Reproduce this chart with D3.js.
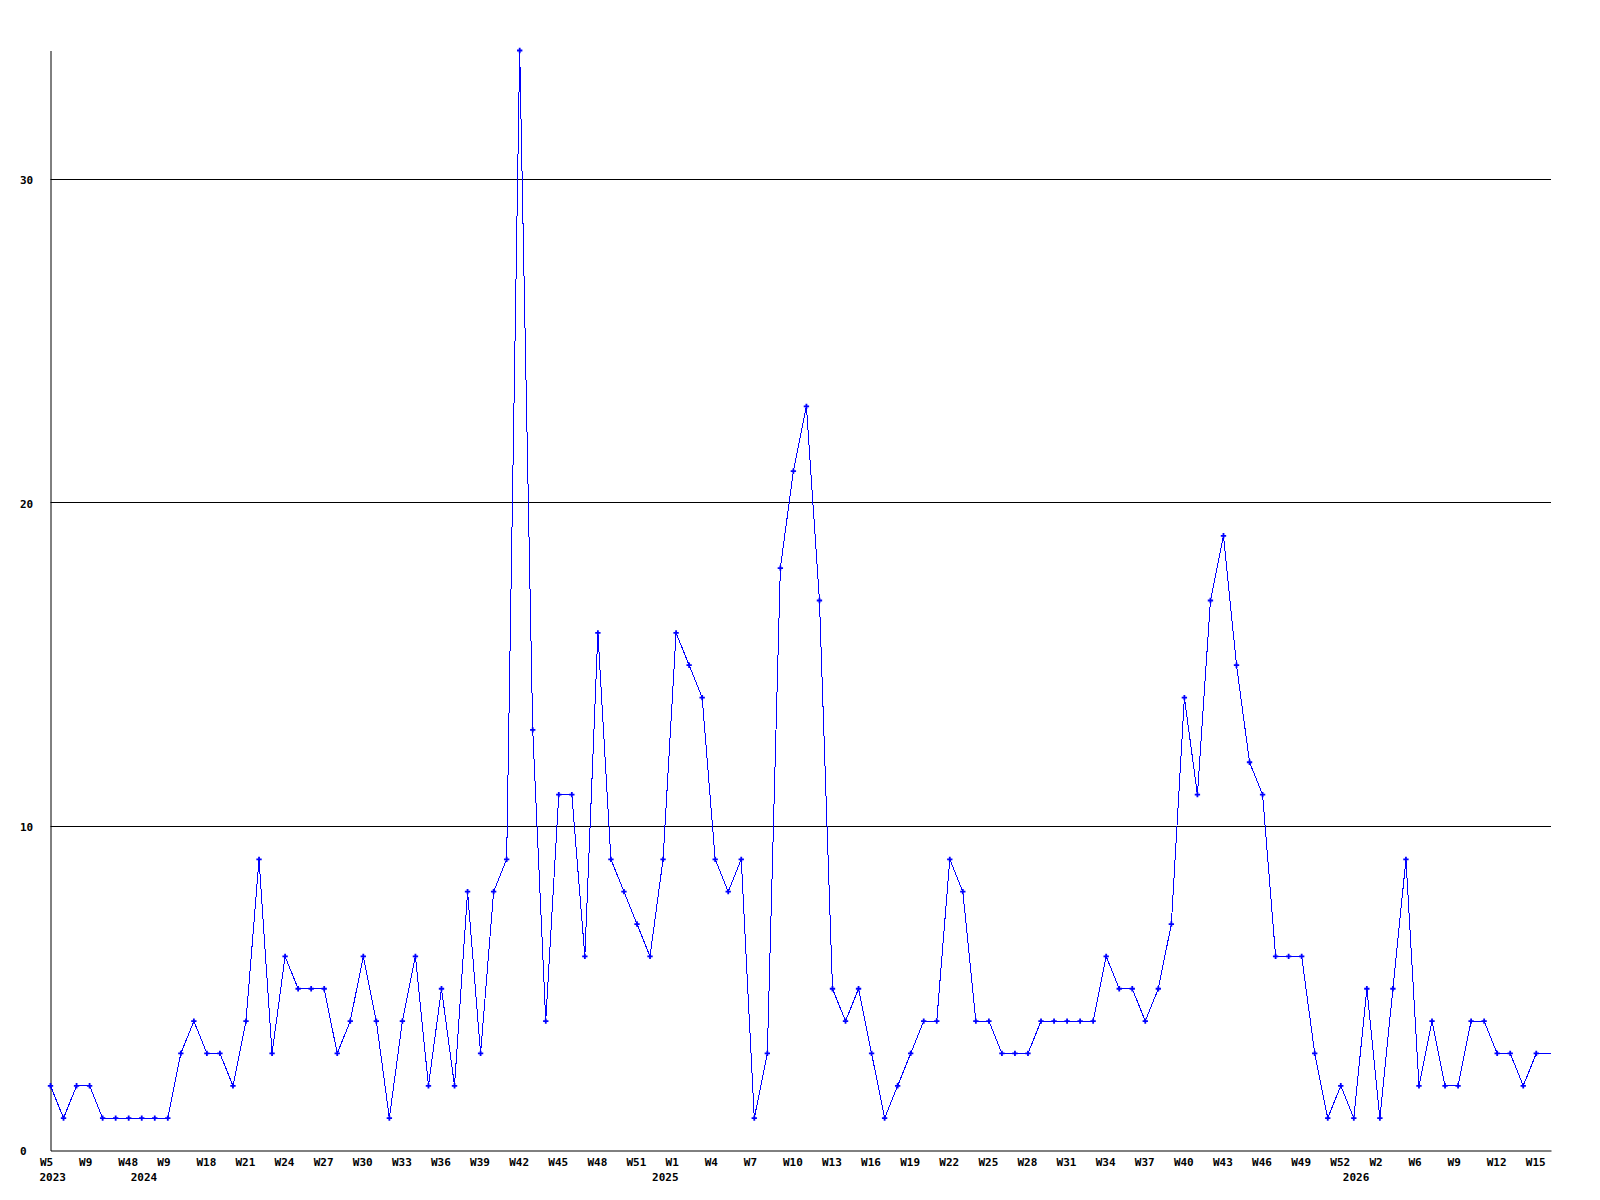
<!DOCTYPE html>
<html>
<head>
<meta charset="utf-8">
<script src="https://cdn.jsdelivr.net/npm/d3@7/dist/d3.min.js"></script>
<style>
  html, body { margin: 0; padding: 0; background: #ffffff; }
  svg { display: block; }
  text { font-family: "DejaVu Sans Mono", "Liberation Mono", monospace; font-weight: bold; font-size: 11px; fill: #000; }
</style>
</head>
<body>
<svg id="chart" width="1600" height="1200"></svg>
<script>
// ---- data ----
const values = [
  2, 1, 2, 2, 1, 1, 1, 1, 1, 1,
  3, 4, 3, 3, 2, 4, 9, 3, 6, 5,
  5, 5, 3, 4, 6, 4, 1, 4, 6, 2,
  5, 2, 8, 3, 8, 9, 34, 13, 4, 11,
  11, 6, 16, 9, 8, 7, 6, 9, 16, 15,
  14, 9, 8, 9, 1, 3, 18, 21, 23, 17,
  5, 4, 5, 3, 1, 2, 3, 4, 4, 9,
  8, 4, 4, 3, 3, 3, 4, 4, 4, 4,
  4, 6, 5, 5, 4, 5, 7, 14, 11, 17,
  19, 15, 12, 11, 6, 6, 6, 3, 1, 2,
  1, 5, 1, 5, 9, 2, 4, 2, 2, 4,
  4, 3, 3, 2, 3
];
const weekTicks = ["W5","W9","W48","W9","W18","W21","W24","W27","W30","W33","W36","W39","W42",
  "W45","W48","W51","W1","W4","W7","W10","W13","W16","W19","W22","W25","W28","W31","W34",
  "W37","W40","W43","W46","W49","W52","W2","W6","W9","W12","W15"];
const weekTickIndex = weekTicks.map((_, i) => i * 3);
const yearLabels = ["2023", "2024", "2025", "2026"];
const yearIndex = [0, 7, 47, 100];
const yTicks = [0, 10, 20, 30];
const yGrid = [10, 20, 30];

(function () {
// ---- layout ----
const mLeft = 50.5, mRight = 1551, mTop = 50.5, mBottom = 1150.5;
const xEnd = 115.13;   // plot extends slightly past last point
const yMax = 34;

const svg = d3.select("#chart");
svg.append("rect").attr("width", 1600).attr("height", 1200).attr("fill", "#fff");

const x = d3.scaleLinear().domain([0, xEnd]).range([mLeft, mRight]);
const y = d3.scaleLinear().domain([0, yMax]).range([mBottom, mTop]);

// grid lines
svg.append("g").selectAll("line").data(yGrid).join("line")
  .attr("x1", mLeft).attr("x2", mRight)
  .attr("y1", d => Math.round(y(d)) - 0.5).attr("y2", d => Math.round(y(d)) - 0.5)
  .attr("stroke", "#000").attr("stroke-width", 1);

// y axis
const yAxis = svg.append("g").attr("transform", `translate(${mLeft},0)`)
  .call(d3.axisLeft(y).tickValues(yTicks).tickFormat(d3.format("d")).tickSize(0).tickSizeOuter(0));
yAxis.attr("font-family", null).attr("font-size", null);
yAxis.select(".domain").attr("stroke", "#000");
yAxis.selectAll("text").attr("text-anchor", "start").attr("x", -30.5).attr("dy", "0.35em");

// x axis
const xAxis = svg.append("g").attr("transform", `translate(0,${mBottom})`)
  .call(d3.axisBottom(x).tickValues(weekTickIndex).tickFormat((d, i) => weekTicks[i]).tickSize(0).tickSizeOuter(0));
xAxis.attr("font-family", null).attr("font-size", null);
xAxis.select(".domain").attr("stroke", "#000");
xAxis.selectAll("text").attr("text-anchor", "start").attr("x", -11).attr("y", 15).attr("dy", 0);

// year labels
svg.append("g").selectAll("text").data(yearLabels).join("text")
  .attr("x", (d, i) => x(yearIndex[i]) - 11)
  .attr("y", mBottom + 30.5)
  .attr("text-anchor", "start")
  .text(d => d);

// line (extends flat to right edge at the last value)
const pts = values.map((v, i) => [i, v]);
pts.push([xEnd, values[values.length - 1]]);
svg.append("path")
  .datum(pts)
  .attr("fill", "none")
  .attr("stroke", "#0000ff")
  .attr("stroke-width", 1)
  .attr("shape-rendering", "crispEdges")
  .attr("d", d3.line().x(d => x(d[0])).y(d => y(d[1])));

// markers
const marker = d3.symbol().type(d3.symbolCross).size(16);
svg.append("g").selectAll("path").data(values).join("path")
  .attr("transform", (d, i) => `translate(${x(i)},${y(d)})`)
  .attr("d", marker)
  .attr("fill", "#0000ff");
})();
</script>
</body>
</html>
